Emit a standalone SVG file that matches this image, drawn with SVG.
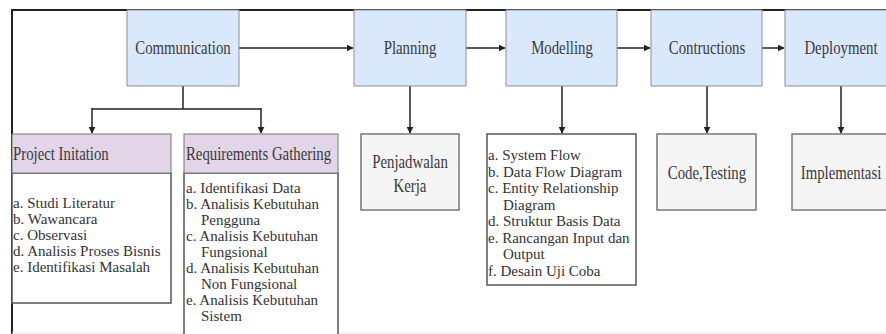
<svg xmlns="http://www.w3.org/2000/svg" width="886" height="334" viewBox="0 0 886 334">
  <defs>
    <marker id="arr" viewBox="0 0 10 10" refX="9" refY="5" markerWidth="7" markerHeight="7" markerUnits="userSpaceOnUse" orient="auto">
      <path d="M0,0 L10,5 L0,10 z" fill="#222"/>
    </marker>
    <style>
      .h { fill: #3a3a3a; font-size: 19px; font-family: "Liberation Serif", "Times New Roman", serif; }
      .l { fill: #333; font-size: 15px; font-family: "Liberation Serif", "Times New Roman", serif; }
      .c { text-anchor: middle; }
      .phase { fill: #dae8fc; stroke: #8a8f96; stroke-width: 1; }
      .head { fill: #e1d5e7; stroke: #777; stroke-width: 1; }
      .task { fill: #f5f5f5; stroke: #777; stroke-width: 1.5; }
      .list { fill: #fff; stroke: #555; stroke-width: 1.5; }
      .link { fill: none; stroke: #222; stroke-width: 1.5; }
    </style>
  </defs>
  <rect width="886" height="334" fill="#fff"/>

  <!-- outer frame -->
  <path d="M12,334 V10 H886" fill="none" stroke="#222" stroke-width="2"/>
  <line x1="12" y1="333" x2="886" y2="333" stroke="#e4e4e4" stroke-width="1"/>

  <!-- connectors -->
  <g id="connectors">
    <line class="link" x1="239" y1="48" x2="353" y2="48" marker-end="url(#arr)"/>
    <line class="link" x1="466" y1="48" x2="505" y2="48" marker-end="url(#arr)"/>
    <line class="link" x1="617" y1="48" x2="650" y2="48" marker-end="url(#arr)"/>
    <line class="link" x1="762" y1="48" x2="784" y2="48" marker-end="url(#arr)"/>
    <path class="link" d="M183,86 V109 M92,109 H261"/>
    <line class="link" x1="92" y1="108" x2="92" y2="133" marker-end="url(#arr)"/>
    <line class="link" x1="261" y1="108" x2="261" y2="133" marker-end="url(#arr)"/>
    <line class="link" x1="410" y1="86" x2="410" y2="133" marker-end="url(#arr)"/>
    <line class="link" x1="562" y1="86" x2="562" y2="133" marker-end="url(#arr)"/>
    <line class="link" x1="707" y1="86" x2="707" y2="133" marker-end="url(#arr)"/>
    <line class="link" x1="841" y1="86" x2="841" y2="133" marker-end="url(#arr)"/>
  </g>

  <!-- phases -->
  <g id="communication">
    <rect class="phase" x="127" y="10" width="112" height="76"/>
    <text class="h c" transform="translate(183,54) scale(0.78,1)">Communication</text>
  </g>
  <g id="planning">
    <rect class="phase" x="354" y="10" width="112" height="76"/>
    <text class="h c" transform="translate(410,54) scale(0.78,1)">Planning</text>
  </g>
  <g id="modelling">
    <rect class="phase" x="506" y="10" width="111" height="76"/>
    <text class="h c" transform="translate(562,54) scale(0.78,1)">Modelling</text>
  </g>
  <g id="contructions">
    <rect class="phase" x="651" y="10" width="111" height="76"/>
    <text class="h c" transform="translate(707,54) scale(0.78,1)">Contructions</text>
  </g>
  <g id="deployment">
    <rect class="phase" x="785" y="10" width="112" height="76"/>
    <text class="h c" transform="translate(841,54) scale(0.78,1)">Deployment</text>
  </g>

  <!-- communication sub-steps -->
  <g id="project-initation">
    <rect class="list" x="12" y="173" width="159" height="130"/>
    <rect class="head" x="12" y="134" width="159" height="39"/>
    <text class="h" transform="translate(13,160) scale(0.78,1)">Project Initation</text>
    <text class="l" x="13" y="208">a. Studi Literatur</text>
    <text class="l" x="13" y="224">b. Wawancara</text>
    <text class="l" x="13" y="240">c. Observasi</text>
    <text class="l" x="13" y="256">d. Analisis Proses Bisnis</text>
    <text class="l" x="13" y="272">e. Identifikasi Masalah</text>
  </g>
  <g id="requirements-gathering">
    <rect class="list" x="184" y="173" width="154" height="170"/>
    <rect class="head" x="184" y="134" width="154" height="39"/>
    <text class="h" transform="translate(186,160) scale(0.78,1)">Requirements Gathering</text>
    <text class="l" x="186" y="193">a. Identifikasi Data</text>
    <text class="l" x="186" y="209">b. Analisis Kebutuhan</text>
    <text class="l" x="201" y="225">Pengguna</text>
    <text class="l" x="186" y="241">c. Analisis Kebutuhan</text>
    <text class="l" x="201" y="257">Fungsional</text>
    <text class="l" x="186" y="273">d. Analisis Kebutuhan</text>
    <text class="l" x="201" y="289">Non Fungsional</text>
    <text class="l" x="186" y="305">e. Analisis Kebutuhan</text>
    <text class="l" x="201" y="321">Sistem</text>
  </g>

  <!-- planning output -->
  <g id="penjadwalan">
    <rect class="task" x="361" y="134" width="98" height="76"/>
    <text class="h c" transform="translate(410,168) scale(0.78,1)">Penjadwalan</text>
    <text class="h c" transform="translate(410,192) scale(0.78,1)">Kerja</text>
  </g>

  <!-- modelling output -->
  <g id="modelling-list">
    <rect class="list" x="487" y="134" width="149" height="151"/>
    <text class="l" x="488" y="160">a. System Flow</text>
    <text class="l" x="488" y="176.5">b. Data Flow Diagram</text>
    <text class="l" x="488" y="193">c. Entity Relationship</text>
    <text class="l" x="503" y="209.5">Diagram</text>
    <text class="l" x="488" y="226">d. Struktur Basis Data</text>
    <text class="l" x="488" y="242.5">e. Rancangan Input dan</text>
    <text class="l" x="503" y="259">Output</text>
    <text class="l" x="488" y="276">f. Desain Uji Coba</text>
  </g>

  <!-- construction output -->
  <g id="code-testing">
    <rect class="task" x="657" y="134" width="99" height="76"/>
    <text class="h c" transform="translate(707,179) scale(0.78,1)">Code,Testing</text>
  </g>

  <!-- deployment output -->
  <g id="implementasi">
    <rect class="task" x="792" y="134" width="100" height="76"/>
    <text class="h c" transform="translate(841,179) scale(0.78,1)">Implementasi</text>
  </g>
</svg>
